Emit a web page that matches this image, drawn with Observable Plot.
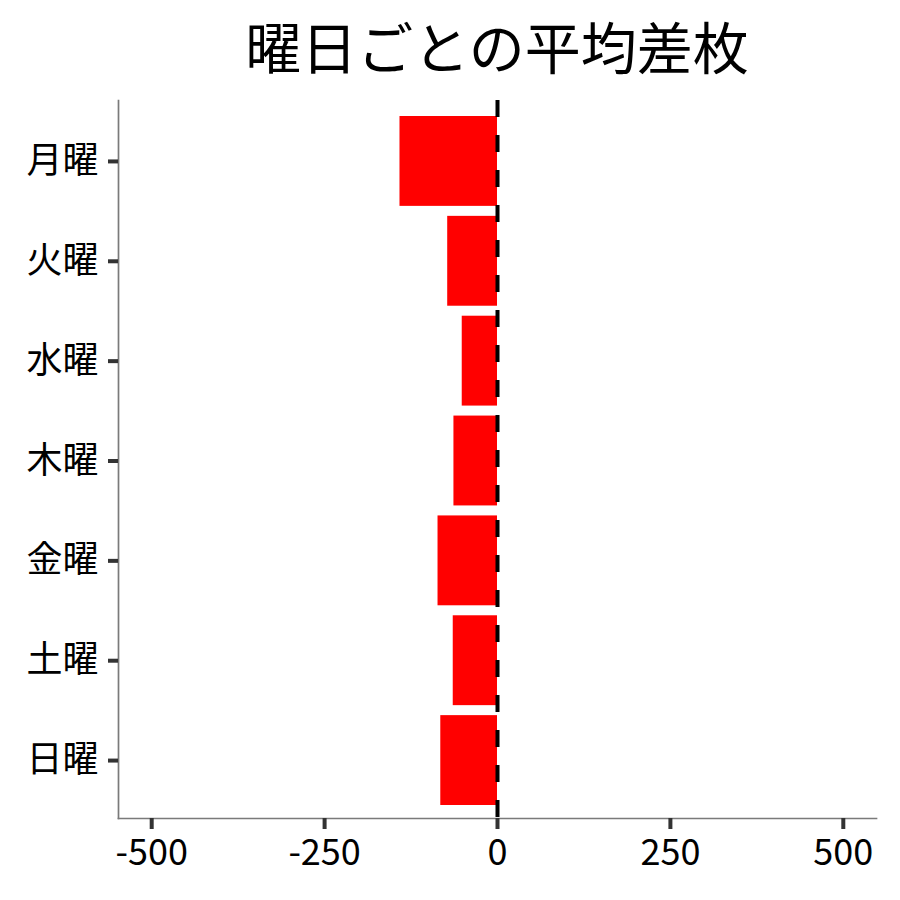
<!DOCTYPE html>
<html>
<head>
<meta charset="utf-8">
<script src="https://cdn.jsdelivr.net/npm/d3@7"></script>
<script src="https://cdn.jsdelivr.net/npm/@observablehq/plot@0.6"></script>
<style>
  html, body { margin: 0; padding: 0; background: #fff; }
  #title {
    height: 90px; line-height: 90px;
    padding-left: 118px; width: 758px;
    text-align: center;
    font-family: "Noto Sans CJK JP", sans-serif;
    font-size: 56px; color: #000;
  }
  #chart svg { display: block; }
</style>
</head>
<body>
<div id="title">曜日ごとの平均差枚</div>
<div id="chart"></div>
<script>
const days = ["月曜", "火曜", "水曜", "木曜", "金曜", "土曜", "日曜"];
const avgDiff = [-141, -72, -51, -63, -86, -64, -82];
const xTicks = [-500, -250, 0, 250, 500];
const xDomain = [-548, 548];

const data = days.map((d, i) => ({day: d, value: avgDiff[i]}));

const chart = Plot.plot({
  width: 900,
  height: 810,
  marginLeft: 118,
  marginRight: 24,
  marginTop: 10,
  marginBottom: 82,
  style: {fontFamily: "'Noto Sans CJK JP', sans-serif", fontSize: "36px", color: "#000", background: "#fff"},
  x: {domain: xDomain, ticks: xTicks, label: null},
  y: {domain: days, range: [26, 715], paddingInner: 0.1, paddingOuter: 0, round: false, label: null},
  marks: [
    Plot.barX(data, {x: "value", y: "day", fill: "#FF0000"}),
    Plot.ruleX([0], {stroke: "#000", strokeWidth: 4, strokeDasharray: "17,18"}),
    Plot.frame({anchor: "left", stroke: "#7a7a7a", strokeWidth: 1.7}),
    Plot.frame({anchor: "bottom", stroke: "#7a7a7a", strokeWidth: 1.7}),
    Plot.axisY({tickSize: 10, tickPadding: 10, stroke: "#333", strokeWidth: 4, fill: "#000", fontSize: 36, label: null}),
    Plot.axisX(xTicks, {tickSize: 11, tickPadding: 10, tickFormat: d => String(d), stroke: "#333", strokeWidth: 4, fill: "#000", fontSize: 36, label: null})
  ]
});
document.getElementById("chart").appendChild(chart);
</script>
</body>
</html>
